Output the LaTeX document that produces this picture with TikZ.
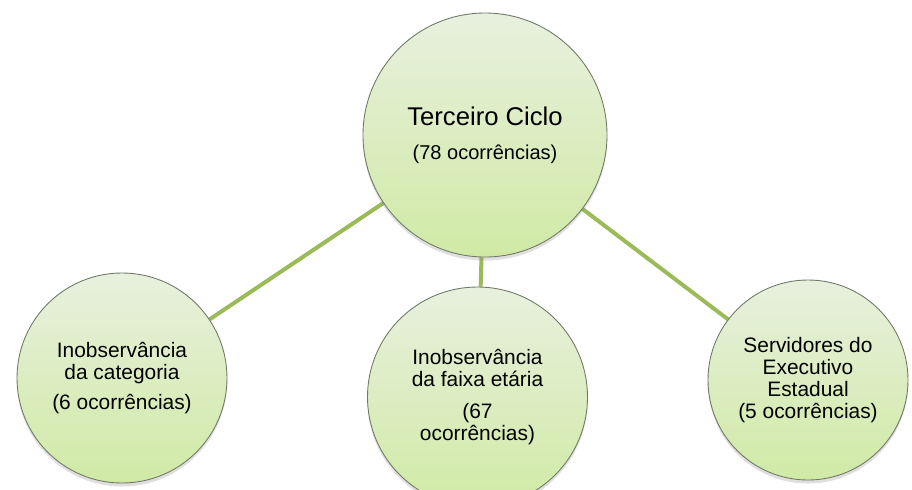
\documentclass[tikz,border=0pt]{standalone}
\usepackage{fontspec}
\setmainfont{Liberation Sans}
\usetikzlibrary{shadows,backgrounds}
\definecolor{bubbletop}{HTML}{E8F0DE}
\definecolor{bubblebottom}{HTML}{D0EAA5}
\definecolor{bubbleedge}{HTML}{6F7A66}
\definecolor{linkgreen}{HTML}{9BBB59}

\begin{document}
\begin{tikzpicture}[
    bubble/.style={circle, draw=bubbleedge, line width=0.5pt,
      top color=bubbletop, bottom color=bubblebottom, inner sep=0pt,
      align=center, font=\fontsize{11.9}{12.4}\selectfont,
      drop shadow={shadow xshift=0pt, shadow yshift=-0.07cm, opacity=0.25}},
    link/.style={draw=linkgreen, line width=0.08cm}
  ]
    \useasboundingbox (0,0) rectangle (18.24,-9.78);
    \node[bubble, minimum size=4.88cm, font=\fontsize{14.6}{17.5}\selectfont] (ciclo) at (9.70,-2.70)
      {Terceiro Ciclo\\[2pt]{\fontsize{11.4}{13.7}\selectfont (78 ocorrências)}};
    \node[bubble, minimum size=4.2cm] (categoria) at (2.44,-7.56)
      {Inobservância\\da categoria\\[5pt](6 ocorrências)};
    \node[bubble, minimum size=4.4cm] (faixa) at (9.55,-7.94)
      {Inobservância\\da faixa etária\\[6pt](67\\ocorrências)};
    \node[bubble, minimum size=4.0cm] (servidores) at (16.16,-7.60)
      {Servidores do\\Executivo\\Estadual\\(5 ocorrências)};
    \begin{scope}[on background layer]
      \draw[link] (ciclo) -- (categoria);
      \draw[link] (ciclo) -- (faixa);
      \draw[link] (ciclo) -- (servidores);
    \end{scope}
  \end{tikzpicture}
\end{document}
